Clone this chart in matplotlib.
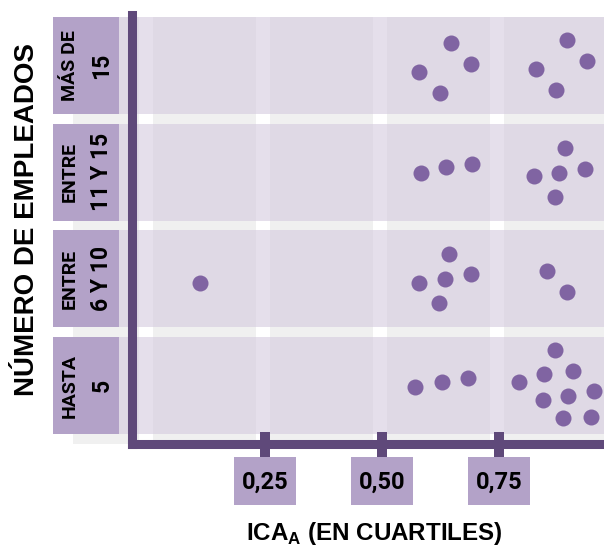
import numpy as np
import matplotlib; matplotlib.use("Agg")
import matplotlib.pyplot as plt
from matplotlib.patches import Rectangle

# rows, bottom -> top (two-line labels inside the boxes)
cat_l1 = ["HASTA", "ENTRE", "ENTRE", "MÁS DE"]
cat_l2 = ["5", "6 Y 10", "11 Y 15", "15"]
quartiles = [0.25, 0.50, 0.75]
quart_labels = ["0,25", "0,50", "0,75"]

# ICA_A of each firm, and its vertical jitter inside its row
x_h5 = [0.571, 0.628, 0.683, 0.793, 0.847, 0.870, 0.909, 0.843, 0.898, 0.954, 0.887, 0.946]
dy_h5 = [-0.011, 0.036, 0.067, 0.033, 0.108, 0.330, 0.136, -0.133, -0.098, -0.054, -0.307, -0.298]
x_6a10 = [0.111, 0.644, 0.580, 0.635, 0.690, 0.622, 0.852, 0.895]
dy_6a10 = [-0.042, 0.233, -0.036, 0.001, 0.042, -0.229, 0.076, -0.121]
x_11a15 = [0.583, 0.637, 0.693, 0.890, 0.824, 0.879, 0.934, 0.870]
dy_11a15 = [-0.005, 0.048, 0.074, 0.229, -0.039, -0.005, 0.032, -0.230]
x_mas15 = [0.647, 0.580, 0.691, 0.624, 0.895, 0.828, 0.937, 0.872]
dy_mas15 = [0.208, -0.064, 0.014, -0.261, 0.236, -0.036, 0.042, -0.230]
xs = [x_h5, x_6a10, x_11a15, x_mas15]
dys = [dy_h5, dy_6a10, dy_11a15, dy_mas15]

DARK = "#5f497a"; BOX = "#b3a2c8"; DOT = "#8064a2"; GAP = "#f0f0f0"; ROW = "#d4cade"
W, H = 604, 549
def px2x(p): return 0.25 + (p - 265) / 468.0      # pixel column -> ICA
def py2y(p): return (385.5 - p) / 106.67          # pixel row -> row units

fig = plt.figure(figsize=(W/100, H/100), dpi=100)
ax = fig.add_axes([132/W, (H-444)/H, (W-132)/W, (444-15.5)/H])
ax.set_xlim(px2x(132), px2x(W)); ax.set_ylim(py2y(444), py2y(15.5))
ax.patch.set_visible(False)

HR = 0.455; x0 = px2x(73); x1 = px2x(W + 5)
ytop = len(cat_l1) - 1 + HR
ax.add_patch(Rectangle((x0, py2y(444)), x1 - x0, ytop - py2y(444), color=GAP, lw=0, zorder=0.1, clip_on=False))
for q in [0.0] + quartiles:
    ax.add_patch(Rectangle((q - 0.019, py2y(444)), 0.03, ytop - py2y(444), color="white", lw=0, zorder=0.2, clip_on=False))
for k in range(len(cat_l1)):
    ax.add_patch(Rectangle((x0, k - HR), x1 - x0, 2*HR, color=ROW, alpha=0.6, lw=0, zorder=0.3, clip_on=False))
    # category box + two-line label
    ax.add_patch(Rectangle((px2x(53), k - HR), px2x(119) - px2x(53), 2*HR, color=BOX, lw=0, zorder=0.4, clip_on=False))
    ax.text(px2x(70), k, cat_l1[k], rotation=90, ha="center", va="center", fontsize=14,
            fontweight="bold", family="Roboto", clip_on=False)
    ax.text(px2x(102), k, cat_l2[k], rotation=90, ha="center", va="center", fontsize=16.5,
            fontweight="bold", family="Roboto", clip_on=False)
    ax.scatter(xs[k], k + np.array(dys[k]), s=133, color=DOT, lw=0, zorder=5)

# quartile label boxes under the ticks
for q, lab in zip(quartiles, quart_labels):
    ax.add_patch(Rectangle((q - 0.067, py2y(505)), 0.134, py2y(457) - py2y(505), color=BOX, lw=0, clip_on=False))
    ax.text(q, py2y(482), lab, ha="center", va="center", fontsize=17, fontweight="bold",
            family="Roboto", clip_on=False)

for s in ["top", "right"]: ax.spines[s].set_visible(False)
for s in ["left", "bottom"]:
    ax.spines[s].set_color(DARK); ax.spines[s].set_linewidth(6.5); ax.spines[s].set_capstyle("projecting")
ax.set_yticks([])
ax.set_xticks(quartiles)
ax.tick_params(axis="x", direction="inout", length=18, width=7.2, color=DARK, labelbottom=False)

plt.rcParams.update({"mathtext.fontset": "custom", "mathtext.bf": "Liberation Sans:bold",
                     "mathtext.rm": "Liberation Sans:bold"})
fig.text(374/W, (H-540)/H, r"ICA$_\mathbf{A}$ (EN CUARTILES)", ha="center", va="baseline",
         fontsize=17.4, fontweight="bold", family="Liberation Sans")
fig.text(26.8/W, (H-219)/H, "NÚMERO DE EMPLEADOS", rotation=90, ha="center", va="center",
         fontsize=20, fontweight="bold", family="Liberation Sans")

fig.savefig("out.png", dpi=100)
